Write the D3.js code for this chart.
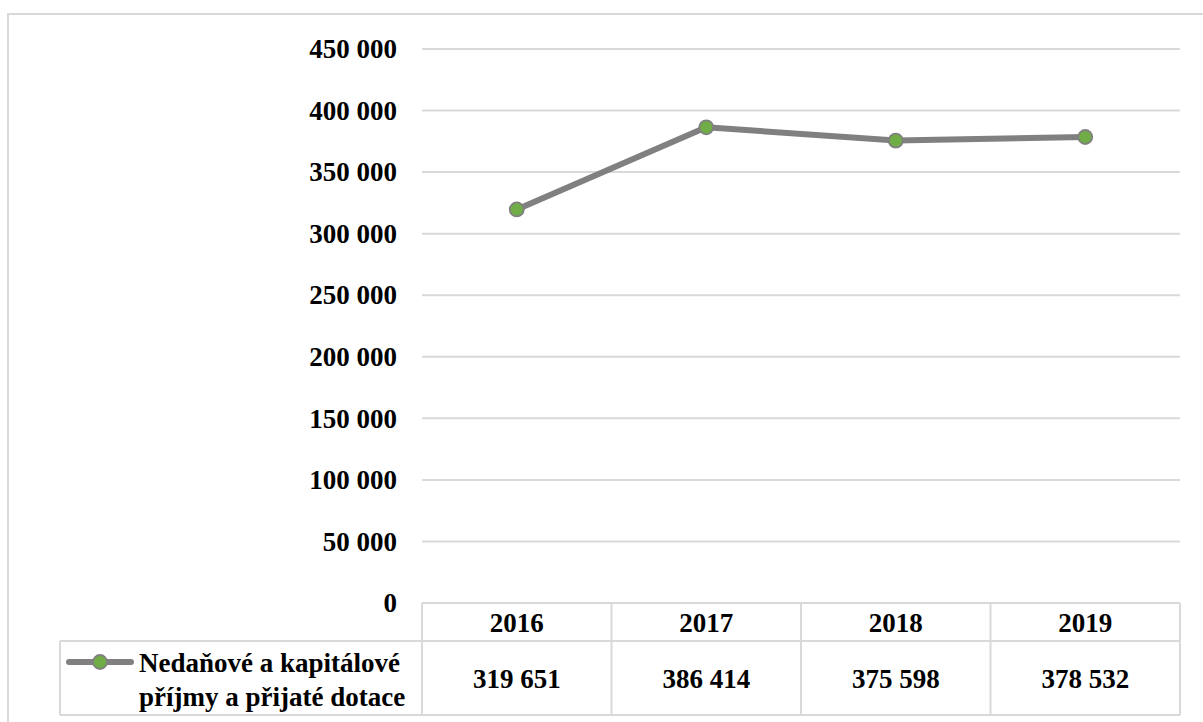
<!DOCTYPE html>
<html>
<head>
<meta charset="utf-8">
<script src="https://cdn.jsdelivr.net/npm/d3@7"></script>
<style>
    body { margin: 0; background: #fff; }
    svg text { font-family: "Liberation Serif", "Times New Roman", serif; font-weight: bold; fill: #000; }
</style>
</head>
<body>
<div id="chart"></div>
<script>
// Data
const years = ['2016', '2017', '2018', '2019'];
const values = [319651, 386414, 375598, 378532];
const yTicks = [0, 50000, 100000, 150000, 200000, 250000, 300000, 350000, 400000, 450000];
const seriesName = ['Nedaňové a kapitálové', 'příjmy a přijaté dotace'];

const width = 1203, height = 722;
const plot = { left: 422, right: 1180, top: 49, bottom: 603 };
const rowBottom = [641, 715]; // header row / value row bottoms
const legendLeft = 60;
const gridColor = '#d9d9d9';
const fontSize = 27;

const fmt = d3.formatLocale({ decimal: ',', thousands: ' ', grouping: [3], currency: ['', ''] }).format(',d');

const svg = d3.select('#chart')
    .append('svg')
    .attr('width', width)
    .attr('height', height);

// Outer chart frame (runs past the right and bottom edges)
svg.append('rect')
    .attr('x', 8)
    .attr('y', 14)
    .attr('width', 1400)
    .attr('height', 900)
    .attr('fill', 'none')
    .attr('stroke', gridColor)
    .attr('stroke-width', 2);

const x = d3.scaleBand(years, [plot.left, plot.right]);
const y = d3.scaleLinear([0, 450000], [plot.bottom, plot.top]);

// Gridlines
svg.append('g')
    .selectAll('line')
    .data(yTicks.filter(d => d > 0))
    .enter()
    .append('line')
    .attr('x1', plot.left)
    .attr('x2', plot.right)
    .attr('y1', d => y(d))
    .attr('y2', d => y(d))
    .attr('stroke', gridColor)
    .attr('stroke-width', 2);

// Y axis labels
svg.append('g')
    .selectAll('text')
    .data(yTicks)
    .enter()
    .append('text')
    .attr('x', 397)
    .attr('y', d => y(d))
    .attr('dy', '0.34em')
    .attr('text-anchor', 'end')
    .style('font-size', fontSize + 'px')
    .text(d => fmt(d));

// Data table
const table = svg.append('g')
    .attr('fill', 'none')
    .attr('stroke', gridColor)
    .attr('stroke-width', 2);

// horizontal rules
table.append('line')
    .attr('x1', plot.left).attr('x2', plot.right)
    .attr('y1', plot.bottom).attr('y2', plot.bottom);
rowBottom.forEach(b => {
    table.append('line')
        .attr('x1', legendLeft).attr('x2', plot.right)
        .attr('y1', b).attr('y2', b);
});
table.append('line')
    .attr('x1', legendLeft).attr('x2', legendLeft)
    .attr('y1', rowBottom[0]).attr('y2', rowBottom[1]);

// vertical rules
table.selectAll('.col')
    .data(years.concat(['end']))
    .enter()
    .append('line')
    .attr('class', 'col')
    .attr('x1', (d, i) => i < years.length ? x(d) : plot.right)
    .attr('x2', (d, i) => i < years.length ? x(d) : plot.right)
    .attr('y1', plot.bottom)
    .attr('y2', rowBottom[1]);

// year labels
svg.append('g')
    .selectAll('text')
    .data(years)
    .enter()
    .append('text')
    .attr('x', d => x(d) + x.bandwidth() / 2)
    .attr('y', (plot.bottom + rowBottom[0]) / 2 + 1)
    .attr('dy', '0.34em')
    .attr('text-anchor', 'middle')
    .style('font-size', fontSize + 'px')
    .text(d => d);

// values row
svg.append('g')
    .selectAll('text')
    .data(values)
    .enter()
    .append('text')
    .attr('x', (d, i) => x(years[i]) + x.bandwidth() / 2)
    .attr('y', 679)
    .attr('dy', '0.34em')
    .attr('text-anchor', 'middle')
    .style('font-size', fontSize + 'px')
    .text(d => fmt(d));

// Series line
const line = d3.line()
    .x((d, i) => x(years[i]) + x.bandwidth() / 2)
    .y(d => y(d));

svg.append('path')
    .datum(values)
    .attr('d', line)
    .attr('fill', 'none')
    .attr('stroke', '#808080')
    .attr('stroke-width', 6)
    .attr('stroke-linejoin', 'round');

svg.append('g')
    .selectAll('circle')
    .data(values)
    .enter()
    .append('circle')
    .attr('cx', (d, i) => x(years[i]) + x.bandwidth() / 2)
    .attr('cy', d => y(d))
    .attr('r', 7)
    .attr('fill', '#70ad47')
    .attr('stroke', '#808080')
    .attr('stroke-width', 1.8);

// Legend key inside the table
const key = svg.append('g');
key.append('line')
    .attr('x1', 69).attr('x2', 131)
    .attr('y1', 662).attr('y2', 662)
    .attr('stroke', '#808080')
    .attr('stroke-width', 6)
    .attr('stroke-linecap', 'round');
key.append('circle')
    .attr('cx', 100).attr('cy', 662)
    .attr('r', 7)
    .attr('fill', '#70ad47')
    .attr('stroke', '#808080')
    .attr('stroke-width', 1.8);
key.selectAll('text')
    .data(seriesName)
    .enter()
    .append('text')
    .attr('x', 139)
    .attr('y', (d, i) => 663 + i * 34)
    .attr('dy', '0.34em')
    .style('font-size', fontSize + 'px')
    .text(d => d);
</script>
</body>
</html>
